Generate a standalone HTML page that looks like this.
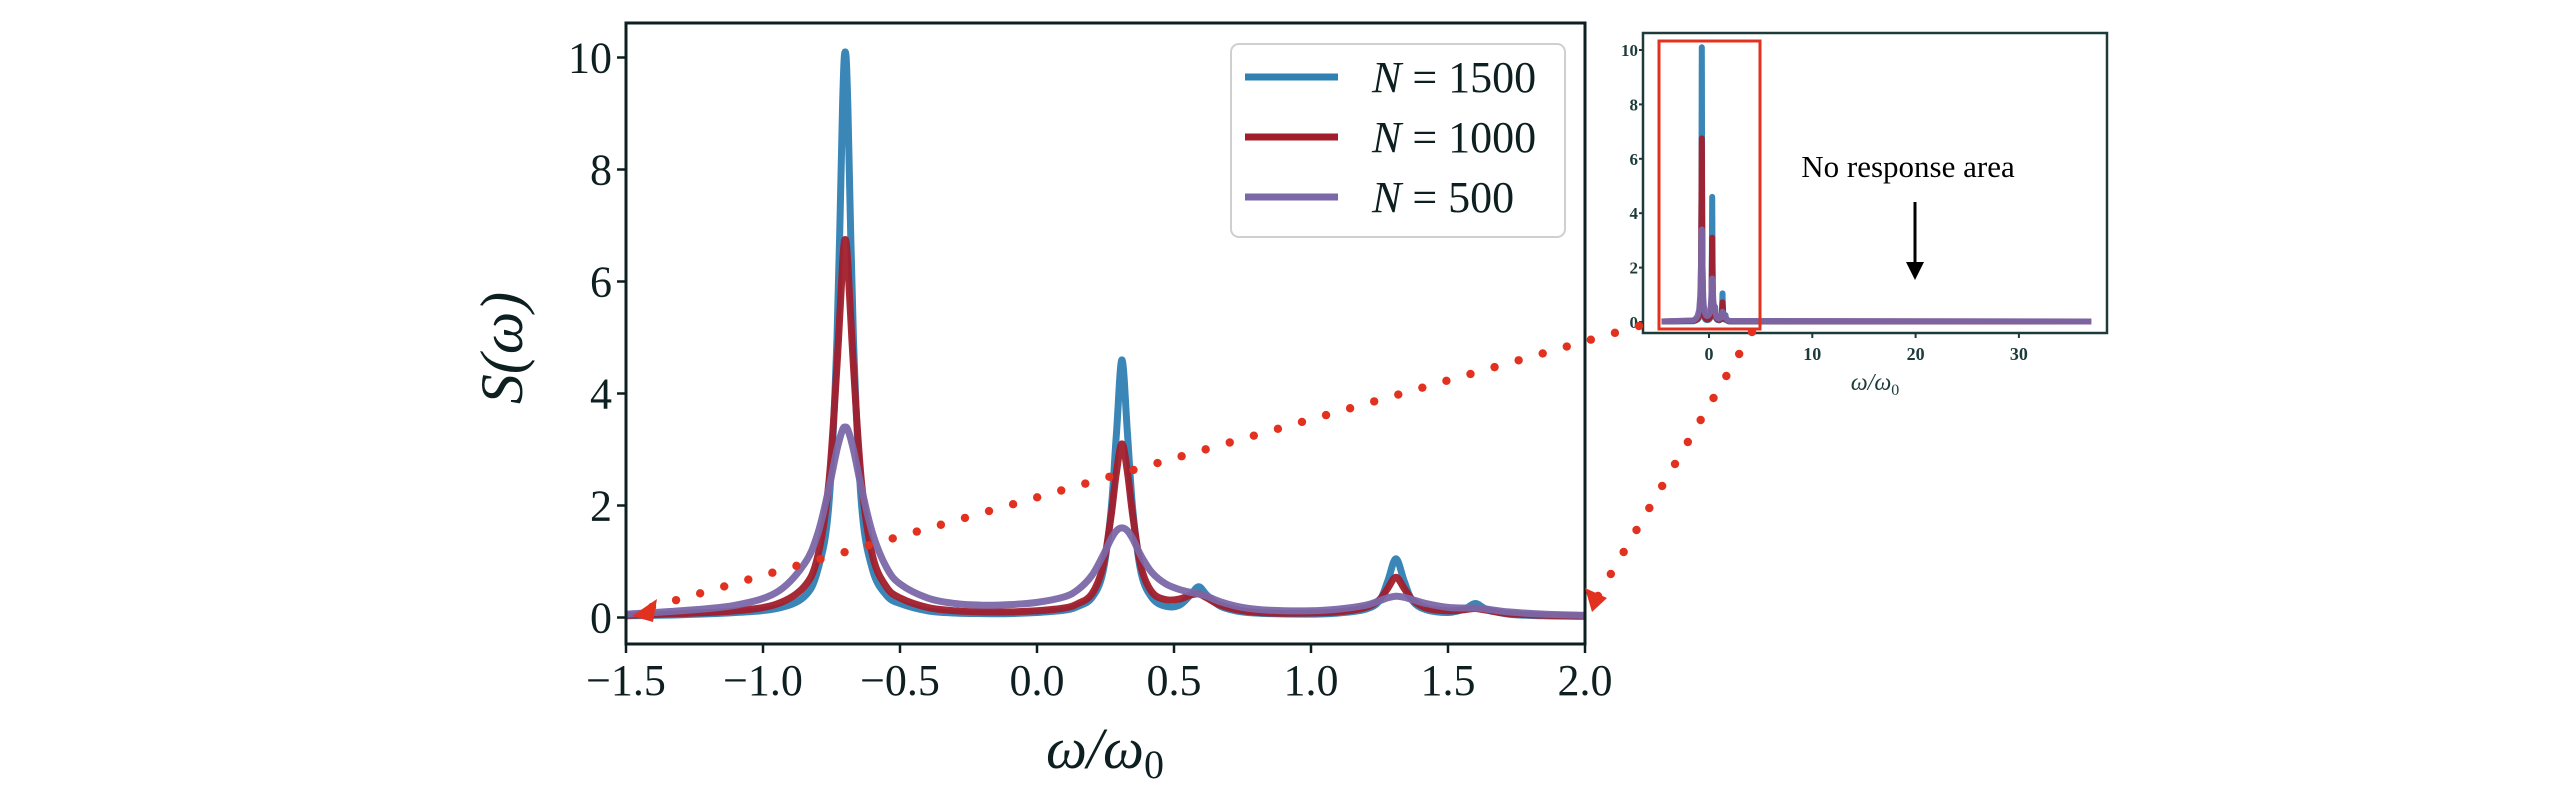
<!DOCTYPE html>
<html><head><meta charset="utf-8"><style>
html,body{margin:0;padding:0;background:#fff;}
svg{display:block;font-family:"Liberation Serif",serif;}
</style></head><body>
<svg id="fig" width="2567" height="787" viewBox="0 0 2567 787" xmlns="http://www.w3.org/2000/svg">
<g id="main"></g>
<g id="inset"></g>
<g id="annot"></g>
</svg>
<script>
const xs=[-1.5,-1.3,-1.1,-0.95,-0.85,-0.8,-0.76,-0.73,-0.71,-0.7,-0.69,-0.67,-0.64,-0.6,-0.55,-0.5,-0.4,-0.3,-0.2,-0.1,0,0.1,0.15,0.2,0.24,0.27,0.29,0.31,0.33,0.35,0.38,0.42,0.47,0.52,0.56,0.59,0.62,0.67,0.75,0.85,1.0,1.1,1.2,1.25,1.28,1.31,1.34,1.37,1.42,1.5,1.56,1.6,1.64,1.72,1.85,2.0];
const n1500=[0.03,0.05,0.09,0.16,0.37,0.85,2.0,5.0,9.1,10.1,9.1,5.0,2.0,0.85,0.4,0.25,0.12,0.08,0.07,0.07,0.09,0.13,0.2,0.35,0.8,1.9,3.3,4.6,3.3,1.9,0.8,0.35,0.2,0.22,0.4,0.55,0.4,0.2,0.1,0.07,0.06,0.08,0.15,0.3,0.65,1.05,0.65,0.3,0.14,0.09,0.15,0.25,0.15,0.06,0.03,0.02];
const n1000=[0.04,0.07,0.12,0.24,0.55,1.1,2.4,4.5,6.3,6.75,6.3,4.5,2.4,1.1,0.55,0.35,0.18,0.12,0.1,0.1,0.12,0.17,0.25,0.42,0.9,1.8,2.6,3.1,2.6,1.8,0.9,0.45,0.32,0.33,0.4,0.42,0.35,0.22,0.12,0.08,0.08,0.1,0.18,0.32,0.52,0.72,0.52,0.32,0.17,0.12,0.14,0.16,0.13,0.07,0.04,0.03];
const n500=[0.06,0.12,0.22,0.45,0.95,1.5,2.3,3.0,3.35,3.4,3.35,3.0,2.3,1.5,0.9,0.6,0.35,0.25,0.22,0.23,0.27,0.37,0.5,0.75,1.1,1.4,1.55,1.6,1.55,1.4,1.1,0.8,0.6,0.5,0.45,0.42,0.38,0.28,0.18,0.13,0.12,0.15,0.22,0.3,0.35,0.38,0.36,0.32,0.25,0.18,0.17,0.17,0.15,0.1,0.06,0.04];
const seriesNames=["N = 1500","N = 1000","N = 500"];
const xTicks=[-1.5,-1.0,-0.5,0.0,0.5,1.0,1.5,2.0];
const xTickLabels=["\u22121.5","\u22121.0","\u22120.5","0.0","0.5","1.0","1.5","2.0"];
const yTicks=[0,2,4,6,8,10];
const insetXTicks=[0,10,20,30];
const insetYTicks=[0,2,4,6,8,10];
const insetTail=[[-4.6,0.02],[37,0.02]];

const NS="http://www.w3.org/2000/svg";
function mk(tag,attrs,parent){const e=document.createElementNS(NS,tag);for(const k in attrs)e.setAttribute(k,attrs[k]);parent.appendChild(e);return e;}
const colors=["#2f80b3","#a11d2b","#7b68a8"];
const seriesData=[n1500,n1000,n500];

// main axes
const M={l:626,r:1585,t:23,b:644};
const X=v=>M.l+(v-(-1.5))/(3.5)*(M.r-M.l);
const Y=v=>617.5-v*56;
const main=document.getElementById('main');
function smoothPath(pts){let d="M"+pts[0][0]+","+pts[0][1];for(let i=0;i<pts.length-1;i++){const p0=pts[Math.max(0,i-1)],p1=pts[i],p2=pts[i+1],p3=pts[Math.min(pts.length-1,i+2)];const c1x=p1[0]+(p2[0]-p0[0])/6,c1y=p1[1]+(p2[1]-p0[1])/6,c2x=p2[0]-(p3[0]-p1[0])/6,c2y=p2[1]-(p3[1]-p1[1])/6;d+=" C"+c1x.toFixed(1)+","+c1y.toFixed(1)+" "+c2x.toFixed(1)+","+c2y.toFixed(1)+" "+p2[0].toFixed(1)+","+p2[1].toFixed(1);}return d;}
const sNames=["series-n1500","series-n1000","series-n500"];
for(let s=0;s<3;s++){
  const pts=xs.map((x,i)=>[X(x),Y(seriesData[s][i])]);
  const p=mk('path',{d:smoothPath(pts),fill:"none",stroke:colors[s],"stroke-width":7,"stroke-linejoin":"round","stroke-opacity":0.95},main);
  
  
}
const frame=mk('rect',{x:M.l,y:M.t,width:M.r-M.l,height:M.b-M.t,fill:"none",stroke:"#0d1f20","stroke-width":3},main);


xTicks.forEach((v,i)=>{
  mk('line',{x1:X(v),x2:X(v),y1:M.b,y2:M.b+9,stroke:"#0d1f20","stroke-width":2.5},main);
  const t=mk('text',{x:X(v),y:695,"font-size":44,"text-anchor":"middle",fill:"#0d1f20"},main);
  t.textContent=xTickLabels[i];
  
  
});
yTicks.forEach(v=>{
  mk('line',{x1:M.l-9,x2:M.l,y1:Y(v),y2:Y(v),stroke:"#0d1f20","stroke-width":2.5},main);
  const t=mk('text',{x:M.l-14,y:Y(v)+15,"font-size":44,"text-anchor":"end",fill:"#0d1f20"},main);
  t.textContent=String(v);
  
  
});
const xl=mk('text',{x:1105,y:768,"font-size":58,"text-anchor":"middle","font-style":"italic",fill:"#0d1f20"},main);
xl.innerHTML='ω/ω<tspan font-size="40" dy="10" font-style="normal">0</tspan>';


const yl=mk('text',{x:0,y:0,"font-size":60,"text-anchor":"middle","font-style":"italic",fill:"#0d1f20",transform:"translate(522,348) rotate(-90)"},main);
yl.textContent='S(ω)';


// legend
const leg=mk('g',{},main);


mk('rect',{x:1231,y:44,width:334,height:193,rx:8,fill:"#fff","fill-opacity":0.85,stroke:"#cfcfcf","stroke-width":2},leg);
seriesNames.forEach((nm,i)=>{
  const y=77+i*60;
  const g=mk('g',{},leg);
  
  
  mk('line',{x1:1245,x2:1338,y1:y,y2:y,stroke:colors[i],"stroke-width":7},g);
  const t=mk('text',{x:1372,y:y+15,"font-size":44,fill:"#0d1f20"},g);
  const parts=nm.split(" = ");
  t.innerHTML='<tspan font-style="italic">'+parts[0]+'</tspan> = '+parts[1];
});

// inset
const I={l:1643,r:2107,t:33,b:333};
const IX=v=>1709+v*10.33;
const IY=v=>322-v*27.2;
const ins=document.getElementById('inset');
for(let s=0;s<3;s++){
  const pts=[[IX(insetTail[0][0]),IY(insetTail[0][1])]].concat(xs.map((x,i)=>[IX(x),IY(seriesData[s][i])])).concat([[IX(insetTail[1][0]),IY(insetTail[1][1])]]);
  const p=mk('polyline',{points:pts.map(p=>p[0].toFixed(1)+","+p[1].toFixed(1)).join(" "),fill:"none",stroke:colors[s],"stroke-width":6,"stroke-linejoin":"round","stroke-opacity":0.95},ins);
  
  
}
const iframe=mk('rect',{x:I.l,y:I.t,width:I.r-I.l,height:I.b-I.t,fill:"none",stroke:"#1d3b3b","stroke-width":2.5},ins);


insetXTicks.forEach(v=>{
  mk('line',{x1:IX(v),x2:IX(v),y1:I.b,y2:I.b+5,stroke:"#1d3b3b","stroke-width":2},ins);
  const t=mk('text',{x:IX(v),y:360,"font-size":18,"font-weight":"bold","text-anchor":"middle",fill:"#1d3b3b"},ins);
  t.textContent=String(v);
  
  
});
insetYTicks.forEach(v=>{
  mk('line',{x1:I.l-4,x2:I.l,y1:IY(v),y2:IY(v),stroke:"#1d3b3b","stroke-width":2},ins);
  const t=mk('text',{x:I.l-5,y:IY(v)+6,"font-size":17,"font-weight":"bold","text-anchor":"end",fill:"#1d3b3b"},ins);
  t.textContent=String(v);
  
  
});
const ixl=mk('text',{x:1875,y:390,"font-size":24,"font-style":"italic","text-anchor":"middle",fill:"#1d3b3b"},ins);
ixl.innerHTML='ω/ω<tspan font-size="16" dy="5" font-style="normal">0</tspan>';



// annotations
const an=document.getElementById('annot');
const box=mk('rect',{x:1659,y:41,width:101,height:288,fill:"none",stroke:"#e3311f","stroke-width":3},an);


const nt=mk('text',{x:1908,y:177,"font-size":31,"text-anchor":"middle",fill:"#000"},an);
nt.textContent='No response area';


mk('line',{x1:1915,y1:202,x2:1915,y2:262,stroke:"#000","stroke-width":3},an);
const ah=mk('polygon',{points:"1906,262 1924,262 1915,280",fill:"#000"},an);


function dotted(x1,y1,x2,y2,step){const L=Math.hypot(x2-x1,y2-y1);const n=Math.floor(L/step);for(let i=0;i<=n;i++){const t=i/n;mk('circle',{cx:x1+(x2-x1)*t,cy:y1+(y2-y1)*t,r:4.2,fill:"#e3311f"},an);}}
dotted(1639,326,652,607,24.5);
dotted(1752,332,1598,596,24.5);
const a1=mk('polygon',{points:"632,616 657,599 653,622",fill:"#e3311f"},an);


const a2=mk('polygon',{points:"1592,612 1585,588 1607,598",fill:"#e3311f"},an);


</script>
</body></html>
